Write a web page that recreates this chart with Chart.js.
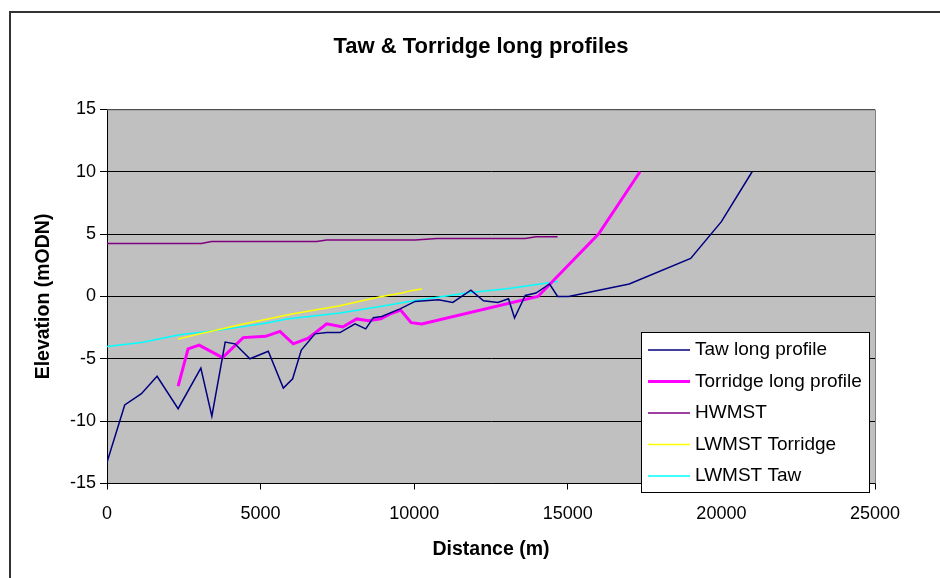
<!DOCTYPE html>
<html>
<head>
<meta charset="utf-8">
<script src="https://cdn.jsdelivr.net/npm/chart.js@4/dist/chart.umd.min.js"></script>
<style>
  html, body { margin: 0; padding: 0; background: #fff; }
  #wrap { width: 940px; height: 578px; }
</style>
</head>
<body>
<div id="wrap"><canvas id="profiles"></canvas></div>
<script>
// distances (m) and elevations (mODN)
var tawDist = [0, 577, 1120, 1630, 2315, 3055, 3413, 3847, 4163, 4652, 5250, 5740, 6043, 6325, 6770, 7150, 7585, 8074, 8422, 8670, 8944, 9540, 10030, 10790, 11257, 11845, 12256, 12725, 13070, 13266, 13615, 13963, 14407, 14668, 15026, 17000, 19000, 20000, 21000];
var tawElev = [-13.3, -8.7, -7.8, -6.4, -9.0, -5.75, -9.6, -3.66, -3.8, -5.0, -4.4, -7.35, -6.6, -4.3, -3.0, -2.9, -2.9, -2.2, -2.6, -1.7, -1.6, -1.0, -0.4, -0.26, -0.48, 0.5, -0.35, -0.48, -0.18, -1.73, 0.08, 0.27, 1.0, 0, 0, 1.0, 3.05, 6.0, 10.0];

var torDist = [2315, 2640, 3000, 3760, 4433, 5163, 5630, 6063, 6552, 7150, 7672, 8128, 8507, 8910, 9270, 9563, 9900, 10248, 14028, 16000, 17350];
var torElev = [-7.2, -4.2, -3.9, -4.9, -3.3, -3.2, -2.8, -3.8, -3.35, -2.2, -2.45, -1.8, -1.95, -1.8, -1.35, -1.1, -2.1, -2.2, 0, 5, 10];

var hwDist = [0, 3075, 3400, 6825, 7150, 10030, 10737, 13615, 13963, 14668];
var hwElev = [4.25, 4.25, 4.41, 4.41, 4.52, 4.52, 4.65, 4.65, 4.79, 4.79];

var lwTorDist = [2315, 3020, 4325, 5630, 6063, 7585, 8563, 8944, 9596, 9922, 10248];
var lwTorElev = [-3.42, -3.0, -2.27, -1.6, -1.39, -0.75, -0.2, 0, 0.27, 0.48, 0.6];

var lwTawDist = [0, 1120, 2370, 3890, 5195, 5847, 7585, 8890, 10030, 11822, 13018, 14668];
var lwTawElev = [-4.01, -3.69, -3.07, -2.62, -2.13, -1.81, -1.33, -0.8, -0.32, 0.32, 0.62, 1.2];

var xTicks = [0, 5000, 10000, 15000, 20000, 25000];
var yTicks = [-15, -10, -5, 0, 5, 10, 15];

function pts(xs, ys) {
    return xs.map(function (x, i) { return { x: x, y: ys[i] }; });
}

function series(label, xs, ys, colour, width) {
    return {
        label: label,
        data: pts(xs, ys),
        showLine: true,
        borderColor: colour,
        backgroundColor: colour,
        borderWidth: width,
        pointRadius: 0,
        tension: 0
    };
}

var FONT = "'Liberation Sans', Arial, sans-serif";

// grey plot area, outer frame and the boxed legend
var frame = {
    id: 'frame',
    beforeDraw: function (chart) {
        var c = chart.ctx, a = chart.chartArea;
        c.save();
        c.fillStyle = '#fff';
        c.fillRect(0, 0, chart.width, chart.height);
        c.fillStyle = '#c0c0c0';
        c.fillRect(a.left, a.top, a.right - a.left, a.bottom - a.top);
        c.restore();
    },
    afterDraw: function (chart) {
        var c = chart.ctx, a = chart.chartArea;
        c.save();
        // plot border top / right
        c.strokeStyle = '#808080';
        c.lineWidth = 1;
        c.beginPath();
        c.moveTo(a.left, a.top + 0.5);
        c.lineTo(a.right + 0.5, a.top + 0.5);
        c.lineTo(a.right + 0.5, a.bottom);
        c.stroke();
        // outer chart frame
        c.strokeStyle = '#333';
        c.lineWidth = 2;
        c.beginPath();
        c.moveTo(10, chart.height);
        c.lineTo(10, 12);
        c.lineTo(chart.width, 12);
        c.stroke();
        // legend
        var lx = 641, ly = 332, lw = 228, lh = 160;
        c.fillStyle = '#fff';
        c.fillRect(lx, ly, lw, lh);
        c.strokeStyle = '#000';
        c.lineWidth = 1;
        c.strokeRect(lx + 0.5, ly + 0.5, lw, lh);
        c.font = '19px ' + FONT;
        c.textBaseline = 'middle';
        c.fillStyle = '#000';
        chart.data.datasets.forEach(function (ds, i) {
            var y = ly + 18 + i * 31.5;
            c.strokeStyle = ds.borderColor;
            c.lineWidth = ds.borderWidth;
            c.beginPath();
            c.moveTo(lx + 7, y);
            c.lineTo(lx + 49, y);
            c.stroke();
            c.fillText(ds.label, lx + 54, y);
        });
        c.restore();
    }
};

new Chart(document.getElementById('profiles'), {
    type: 'scatter',
    data: {
        datasets: [
            series('Taw long profile', tawDist, tawElev, '#000080', 1.5),
            series('Torridge long profile', torDist, torElev, '#ff00ff', 3),
            series('HWMST', hwDist, hwElev, '#800080', 1.5),
            series('LWMST Torridge', lwTorDist, lwTorElev, '#ffff00', 1.5),
            series('LWMST Taw', lwTawDist, lwTawElev, '#00ffff', 1.5)
        ]
    },
    options: {
        responsive: true,
        maintainAspectRatio: false,
        animation: false,
        layout: { padding: { top: 0, right: 0, bottom: 0, left: 22 } },
        plugins: {
            legend: { display: false },
            tooltip: { enabled: false },
            title: {
                display: true,
                text: 'Taw & Torridge long profiles',
                color: '#000',
                font: { family: FONT, size: 22, weight: 'bold' },
                padding: { top: 34, bottom: 49 }
            }
        },
        scales: {
            x: {
                type: 'linear',
                min: 0,
                max: 25000,
                afterBuildTicks: function (s) { s.ticks = xTicks.map(function (v) { return { value: v }; }); },
                afterFit: function (s) { s.height = 94.5; },
                grid: { drawOnChartArea: false, drawTicks: true, tickLength: 6, color: '#000' },
                border: { color: '#000', width: 1 },
                ticks: {
                    color: '#000',
                    padding: 14,
                    font: { family: FONT, size: 18 },
                    callback: function (v) { return String(v); }
                },
                title: {
                    display: true,
                    text: 'Distance (m)',
                    color: '#000',
                    font: { family: FONT, size: 19.5, weight: 'bold' },
                    padding: { top: 4, bottom: 17 }
                }
            },
            y: {
                type: 'linear',
                min: -15,
                max: 15,
                afterBuildTicks: function (s) { s.ticks = yTicks.map(function (v) { return { value: v }; }); },
                afterFit: function (s) { s.width = 85; },
                grid: { color: '#000', tickLength: 7 },
                border: { color: '#000', width: 1 },
                ticks: {
                    color: '#000',
                    padding: 4,
                    font: { family: FONT, size: 18 }
                },
                title: {
                    display: true,
                    text: 'Elevation (mODN)',
                    color: '#000',
                    font: { family: FONT, size: 19.5, weight: 'bold' },
                    padding: { top: 10, bottom: 0 }
                }
            },
            // empty right-hand strip so the plot ends where the original does
            yRight: {
                type: 'linear',
                position: 'right',
                min: -15,
                max: 15,
                afterFit: function (s) { s.width = 65; },
                grid: { drawOnChartArea: false, drawTicks: false },
                border: { display: false },
                ticks: { display: false }
            }
        }
    },
    plugins: [frame]
});
</script>
</body>
</html>
